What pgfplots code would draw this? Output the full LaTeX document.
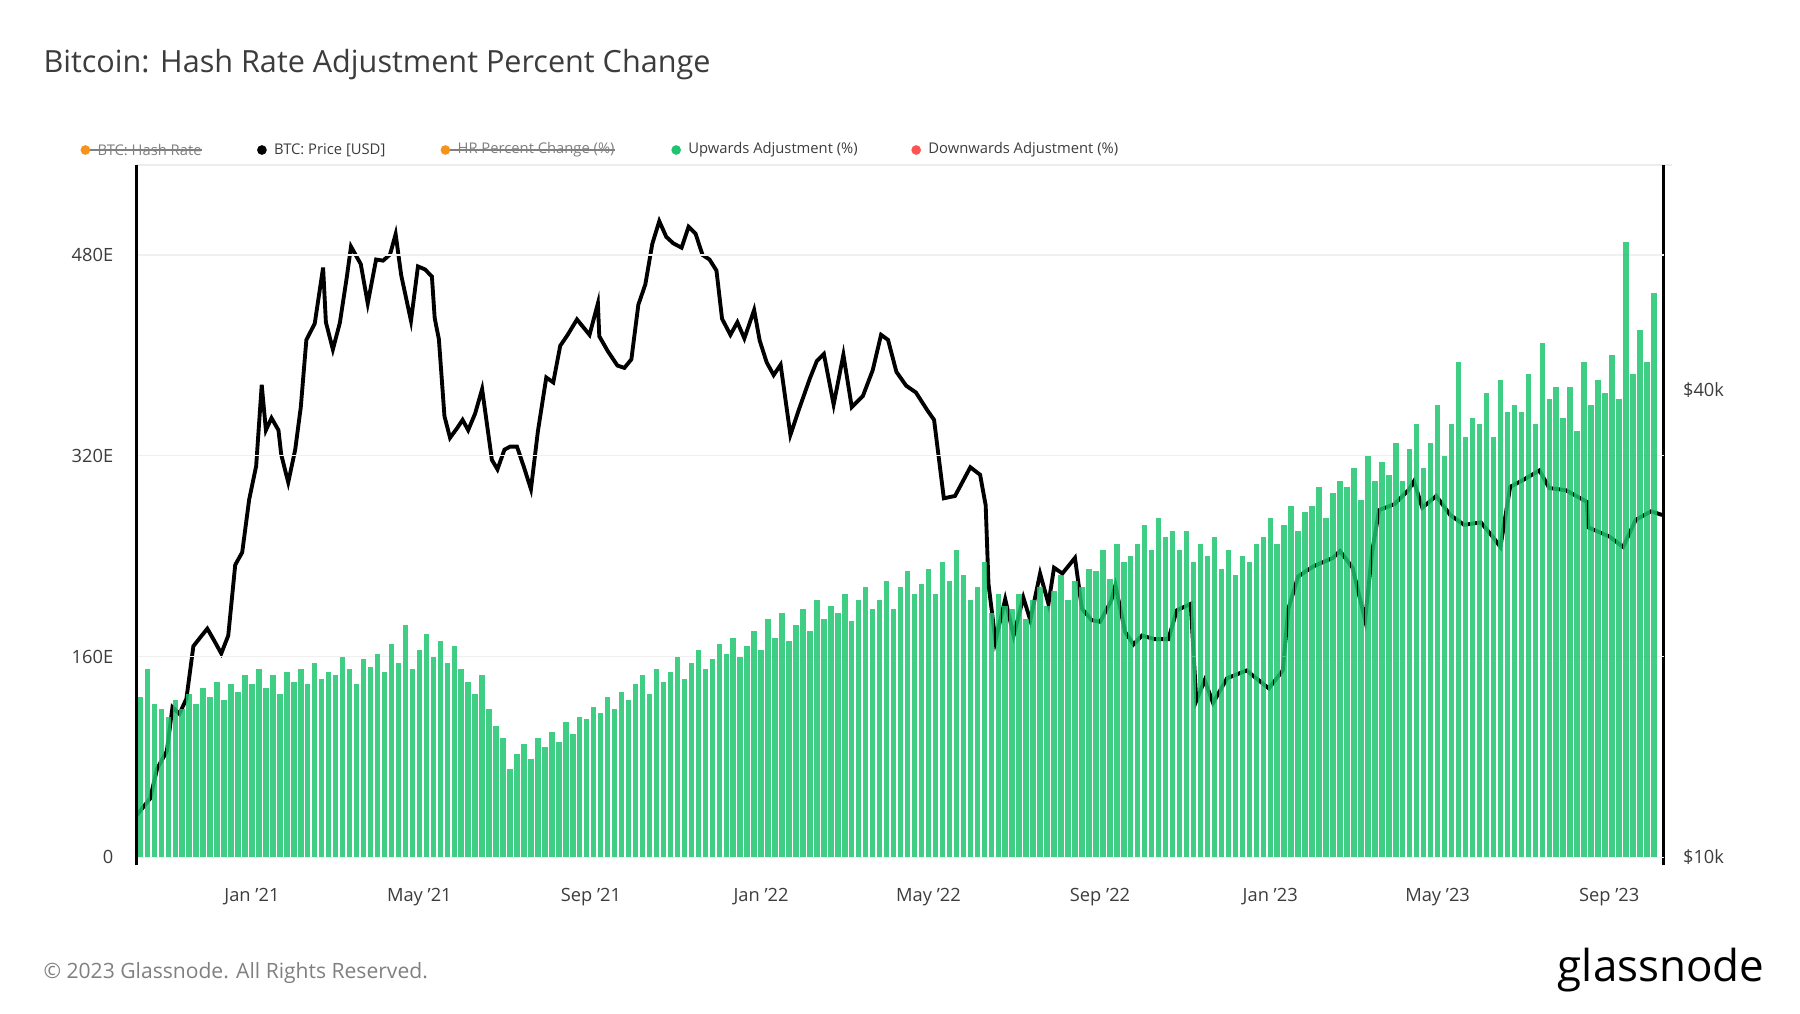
\documentclass[border=0pt]{standalone}
\usepackage{pgfplots}
\pgfplotsset{compat=1.18}
\usepackage{fontspec}
\setmainfont{Open Sans}
\definecolor{gup}{RGB}{30,196,110}
\definecolor{gorg}{RGB}{247,147,26}
\definecolor{gred}{RGB}{255,82,82}
\definecolor{gtxt}{RGB}{60,60,60}
\begin{document}
\begin{tikzpicture}[x=0.011538cm,y=0.011538cm]
\path[use as bounding box] (0,0) rectangle (1560,878);
\node[anchor=west,font=\fontsize{8.7}{11}\selectfont,text=gtxt] at (27,822) {Bitcoin: Hash Rate Adjustment Percent Change};
\begin{scope}[every node/.style={font=\fontsize{4.2}{5}\selectfont,anchor=west,inner sep=0pt}]
\node[text=gray] (a) at (84,748) {BTC: Hash Rate};
\draw[gray,line width=0.4pt] (74,748) -- (a.east);
\fill[gorg] (74,748) circle (4.2);
\fill[black] (227,748) circle (4.2);
\node[text=gtxt] at (237,748) {BTC: Price [USD]};
\node[text=gray] (b) at (396,748) {HR Percent Change (\%)};
\draw[gray,line width=0.4pt] (386,748) -- (b.east);
\fill[gorg] (386,748) circle (4.2);
\fill[gup] (586,748) circle (4.2);
\node[text=gtxt] at (596,748) {Upwards Adjustment (\%)};
\fill[gred] (794,748) circle (4.2);
\node[text=gtxt] at (804,748) {Downwards Adjustment (\%)};
\end{scope}
\draw[gray!15] (118,735) -- (1449,735);
\node[anchor=west,font=\fontsize{6}{7}\selectfont,text=gray] at (27,35) {\copyright\ 2023 Glassnode. All Rights Reserved.};
\node[anchor=east,font=\fontsize{12.5}{14}\selectfont,text=black] at (1540,37) {glassnode};
\begin{axis}[at={(1.3615cm,1.4769cm)},anchor=south west,scale only axis,
  width=15.27cm,height=7.003cm,
  xmin=-83,xmax=1012,ymode=log,ymin=9760,ymax=78000,
  axis y line*=right, axis x line=none,
  ytick={10000,40000},yticklabels={\$10k,\$40k},
  yticklabel style={font=\fontsize{5.2}{6}\selectfont,text=gtxt,anchor=west,xshift=2pt},
  major tick length=0pt, y axis line style={black,line width=0.9pt},
  ]
\addplot[black,line width=1.1pt] coordinates {
(-83,11.3e3)(-73,11.9e3)(-68,13.0e3)(-61,13.7e3)(-57,15.6e3)(-52,15.3e3)(-47,16.0e3)(-42,18.7e3)(-37,19.2e3)(-32,19.7e3)(-27,19.0e3)(-22,18.3e3)(-17,19.3e3)(-12,23.8e3)(-7,24.7e3)(-2,28.9e3)(3,31.9e3)(7,40.6e3)(10,35.5e3)(14,36.8e3)(19,35.5e3)(21,33.0e3)(26,30.4e3)(31,33.5e3)(35,38.0e3)(39,46.4e3)(45,48.7e3)(51,57.5e3)(53,48.9e3)(58,45.1e3)(63,48.8e3)(68,55.9e3)(71,61.2e3)(78,58.1e3)(83,51.7e3)(89,58.9e3)(94,58.7e3)(99,59.8e3)(103,63.5e3)(107,56.2e3)(114,49.1e3)(119,57.7e3)(124,57.2e3)(129,56.0e3)(131,49.5e3)(134,46.5e3)(138,37.0e3)(142,34.7e3)(147,35.7e3)(151,36.6e3)(155,35.5e3)(160,37.3e3)(165,40.1e3)(172,32.5e3)(176,31.6e3)(181,33.5e3)(185,33.8e3)(190,33.8e3)(195,31.8e3)(200,29.8e3)(205,35.4e3)(211,41.5e3)(216,40.9e3)(221,45.6e3)(226,47.0e3)(233,49.3e3)(242,47.1e3)(248,51.7e3)(249,46.9e3)(255,44.9e3)(262,43.0e3)(267,42.7e3)(272,43.8e3)(277,51.5e3)(282,54.7e3)(287,61.7e3)(292,66.0e3)(297,63.0e3)(302,61.8e3)(308,61.0e3)(313,64.9e3)(318,63.6e3)(323,59.7e3)(328,58.9e3)(333,57.0e3)(337,49.4e3)(343,47.1e3)(348,48.9e3)(353,46.6e3)(360,50.7e3)(364,46.3e3)(369,43.4e3)(374,41.8e3)(379,43.1e3)(386,35.0e3)(392,37.7e3)(400,41.4e3)(405,43.6e3)(410,44.5e3)(417,38.3e3)(424,44.4e3)(430,38.0e3)(438,39.3e3)(445,42.4e3)(451,47.1e3)(456,46.4e3)(462,42.2e3)(469,40.5e3)(476,39.7e3)(484,37.7e3)(489,36.6e3)(494,31.0e3)(496,29.0e3)(504,29.2e3)(515,31.8e3)(522,31.1e3)(526,28.4e3)(528,22.5e3)(533,19.0e3)(540,21.5e3)(546,19.3e3)(553,21.6e3)(558,20.2e3)(565,23.2e3)(571,21.2e3)(575,23.6e3)(581,23.2e3)(590,24.3e3)(595,20.9e3)(602,20.2e3)(608,20.1e3)(616,21.4e3)(619,22.4e3)(626,19.5e3)(632,18.8e3)(638,19.3e3)(647,19.1e3)(657,19.1e3)(663,20.8e3)(673,21.2e3)(677,15.9e3)(683,16.9e3)(689,15.8e3)(699,17.0e3)(713,17.4e3)(729,16.5e3)(739,17.4e3)(743,20.9e3)(750,23.0e3)(761,23.7e3)(775,24.3e3)(780,24.8e3)(789,23.6e3)(798,20.2e3)(803,24.7e3)(808,28.0e3)(819,28.5e3)(829,29.7e3)(833,30.5e3)(839,28.2e3)(849,29.2e3)(859,27.6e3)(869,26.8e3)(881,27.0e3)(890,25.8e3)(895,25.1e3)(902,30.0e3)(911,30.6e3)(923,31.5e3)(930,29.9e3)(942,29.7e3)(957,28.7e3)(958,26.6e3)(973,25.9e3)(983,25.1e3)(992,27.2e3)(1003,27.9e3)(1011,27.6e3)
};
\end{axis}
\begin{axis}[at={(1.3615cm,1.4769cm)},anchor=south west,scale only axis,
  width=15.27cm,height=7.003cm,
  xmin=-83,xmax=1012,ymin=-6.4,ymax=551.7,
  axis y line*=left, axis x line*=bottom, x axis line style={draw=none},
  y axis line style={black,line width=0.9pt},
  ytick={0,160,320,480},yticklabels={0,160E,320E,480E},
  yticklabel style={font=\fontsize{5.2}{6}\selectfont,text=gtxt,xshift=-3pt},
  xtick={0,120,243,365,485,608,730,850,973},
  xticklabels={Jan '21,May '21,Sep '21,Jan '22,May '22,Sep '22,Jan '23,May '23,Sep '23},
  xticklabel style={font=\fontsize{5.2}{6}\selectfont,text=gtxt,yshift=-3pt},
  major tick length=0pt,
  ymajorgrids, grid style={gray!12,line width=0.4pt},
  /pgf/number format/assume math mode=true,
  ]
\addplot[ycomb,gup,opacity=0.85,line width=1.55pt] table[x expr=\coordindex*5-85,y index=0,header=false] {
140
128
150
122
118
112
125
118
130
122
135
128
140
125
138
132
145
138
150
135
145
130
148
140
150
138
155
142
148
145
160
150
138
158
152
162
148
170
155
185
150
165
178
160
172
155
168
150
140
130
145
118
105
95
70
82
90
78
95
88
100
92
108
98
112
110
120
115
128
118
132
125
138
145
130
150
140
148
160
142
155
165
150
158
170
162
175
160
168
180
165
190
175
195
172
185
198
180
205
190
200
195
210
188
205
215
198
205
220
198
215
228
210
218
230
210
235
220
245
225
205
215
235
195
210
200
198
210
190
205
215
200
212
225
205
220
215
230
228
245
222
250
235
240
250
265
245
270
255
260
245
260
235
250
240
255
230
245
225
240
235
250
255
270
250
265
280
260
275
280
295
270
290
300
295
310
285
320
300
315
305
330
300
325
345
310
330
360
320
345
395
335
350
345
370
335
380
355
360
355
385
345
410
365
375
350
375
340
395
360
380
370
400
365
490
385
420
395
450
};
\end{axis}
\end{tikzpicture}
\end{document}
